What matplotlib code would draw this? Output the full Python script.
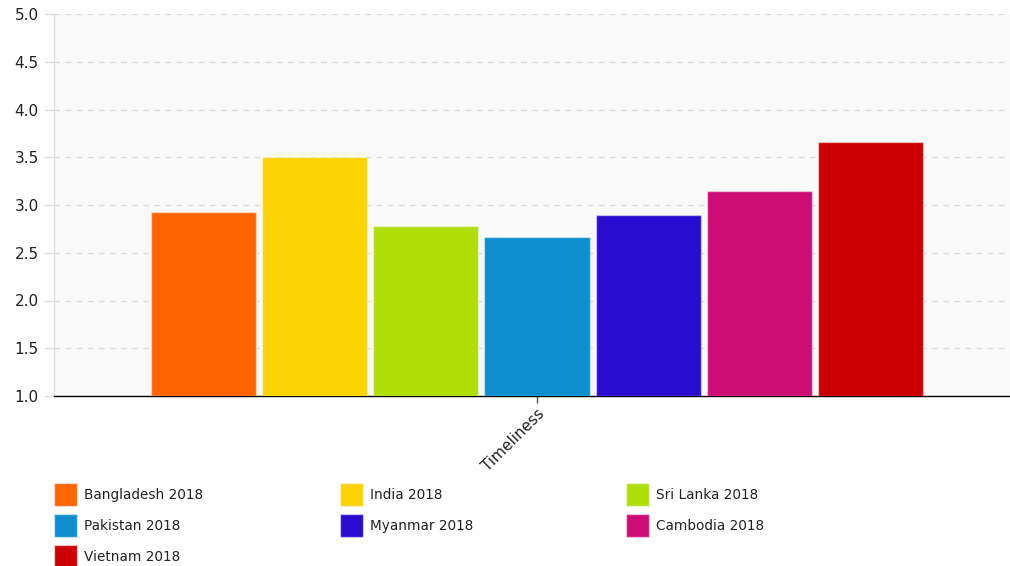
import matplotlib.pyplot as plt
from matplotlib.patches import Rectangle

# Timeliness scores, 2018
countries = ['Bangladesh 2018', 'India 2018', 'Sri Lanka 2018', 'Pakistan 2018',
             'Myanmar 2018', 'Cambodia 2018', 'Vietnam 2018']
scores = [2.93, 3.50, 2.78, 2.66, 2.90, 3.15, 3.66]
colors = ['#FF6600', '#FCD202', '#B0DE09', '#0D8ECF', '#2A0CD0', '#CD0D74', '#CC0000']
category = 'Timeliness'
yticks = [1.0, 1.5, 2.0, 2.5, 3.0, 3.5, 4.0, 4.5, 5.0]

plt.rcParams['font.family'] = 'DejaVu Sans'

fig = plt.figure(figsize=(10.10, 5.66), dpi=100)
ax = fig.add_axes([54/1010, 170/566, 956/1010, 382/566])
ax.set_facecolor('#f9f9f9')

n = len(scores)
for i, (name, val, c) in enumerate(zip(countries, scores, colors)):
    ax.bar(i - (n - 1) / 2, val - 1.0, bottom=1.0, width=0.944, color=c,
           edgecolor=(1, 1, 1, 0.45), linewidth=1, label=name, zorder=3)

ax.set_xlim(-4.34, 4.25)
ax.set_ylim(1.0, 5.0)
ax.set_yticks(yticks)
ax.set_yticklabels([f'{t:.1f}' for t in yticks])
ax.set_xticks([0])
ax.set_xticklabels([category], rotation=45, ha='right', va='top',
                   rotation_mode='anchor')

ax.grid(axis='y', color='#dcdcdc', linestyle=(0, (4, 4)), linewidth=1, zorder=0)
ax.tick_params(axis='y', length=0, pad=11, labelsize=11, labelcolor='#222222')
ax.tick_params(axis='x', length=5, width=1, color='#555555', pad=2,
               labelsize=11, labelcolor='#222222')
for s in ['top', 'right']:
    ax.spines[s].set_visible(False)
ax.spines['left'].set_color('#dddddd')
ax.spines['bottom'].set_color('#000000')
ax.spines['bottom'].set_linewidth(1)

# dashed stubs to the left of the y axis
for t in yticks:
    ax.plot([-0.009, 0], [t, t], transform=ax.get_yaxis_transform(),
            color='#dcdcdc', lw=1, ls='-', clip_on=False)

# legend in three columns
W, H = 1010, 566
for i, (name, c) in enumerate(zip(countries, colors)):
    col, row = i % 3, i // 3
    x0 = 54 + col * 286
    yc = 495 + row * 31
    fig.patches.append(Rectangle((x0 / W, 1 - (yc + 11) / H), 23 / W, 23 / H,
                                 transform=fig.transFigure, facecolor=c,
                                 edgecolor=(1, 1, 1, 0.5), linewidth=1))
    fig.text((x0 + 30) / W, 1 - yc / H, name, fontsize=9.8, color='#222222',
             va='center', ha='left')

fig.savefig('out.png', dpi=100)
